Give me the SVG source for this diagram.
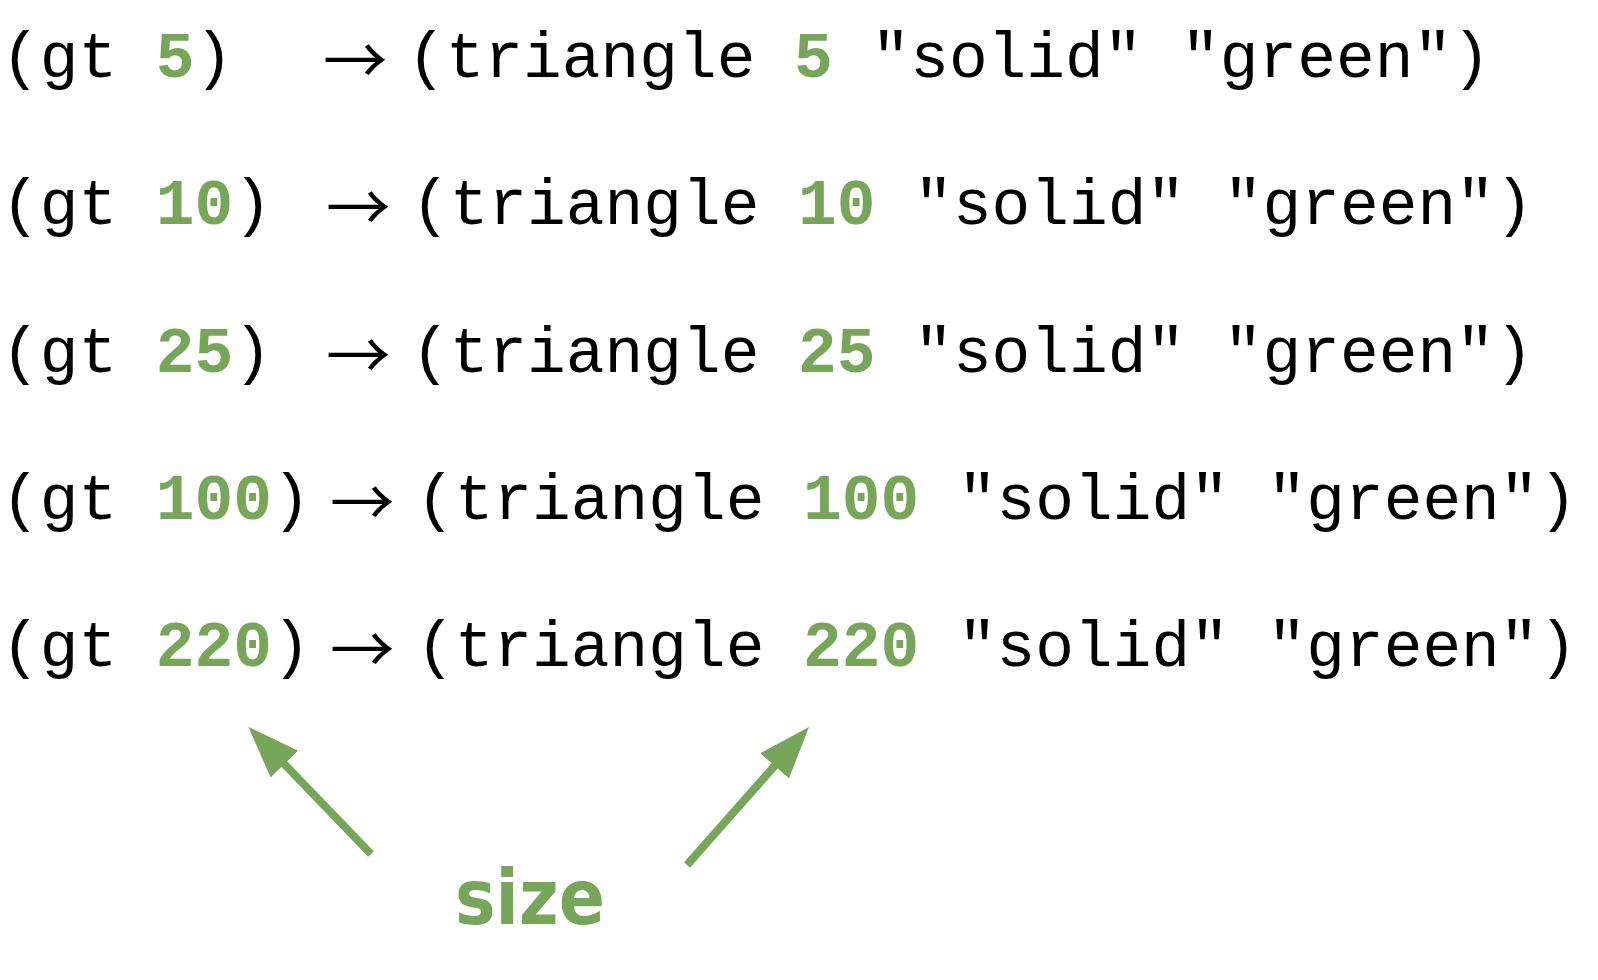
<svg xmlns="http://www.w3.org/2000/svg" width="1598" height="980" viewBox="0 0 1598 980">
<style>
.code{font-family:"Liberation Mono","Courier New",monospace;font-size:64.5px;fill:#000}
.num{font-weight:bold;fill:#77a65b}
.arr{font-family:"Noto Sans CJK JP","DejaVu Sans",sans-serif;font-size:64.5px;fill:#000}
.lbl{font-family:"DejaVu Sans","Liberation Sans",sans-serif;font-weight:bold;font-size:77px;fill:#77a65b}
.conn{stroke:#77a65b;stroke-width:8;fill:none}
</style>
<defs>
<marker id="head" markerUnits="userSpaceOnUse" markerWidth="54" markerHeight="40" refX="2" refY="19.2" orient="auto" viewBox="0 0 54 40">
<path d="M0,0 L52,19.2 L0,38.4 Z" fill="#77a65b"/>
</marker>
</defs>
<rect width="1598" height="980" fill="#fff"/>
<g id="row1">
<text class="code" x="1" y="77">(gt <tspan class="num">5</tspan>)</text>
<text class="arr" x="323" y="84">→</text>
<text class="code" x="407" y="77">(triangle <tspan class="num">5</tspan> "solid" "green")</text>
</g>
<g id="row2">
<text class="code" x="1" y="224">(gt <tspan class="num">10</tspan>)</text>
<text class="arr" x="326" y="231.3">→</text>
<text class="code" x="411" y="224">(triangle <tspan class="num">10</tspan> "solid" "green")</text>
</g>
<g id="row3">
<text class="code" x="1" y="371.5">(gt <tspan class="num">25</tspan>)</text>
<text class="arr" x="326" y="378.6">→</text>
<text class="code" x="411" y="371.5">(triangle <tspan class="num">25</tspan> "solid" "green")</text>
</g>
<g id="row4">
<text class="code" x="1" y="519">(gt <tspan class="num">100</tspan>)</text>
<text class="arr" x="330" y="525.9">→</text>
<text class="code" x="416" y="519">(triangle <tspan class="num">100</tspan> "solid" "green")</text>
</g>
<g id="row5">
<text class="code" x="1" y="666">(gt <tspan class="num">220</tspan>)</text>
<text class="arr" x="330" y="673.2">→</text>
<text class="code" x="416" y="666">(triangle <tspan class="num">220</tspan> "solid" "green")</text>
</g>
<g id="size-label">
<text class="lbl" x="455" y="924" textLength="150" lengthAdjust="spacingAndGlyphs">size</text>
</g>
<g id="connectors">
<line class="conn" x1="371" y1="854" x2="283" y2="762.7" marker-end="url(#head)"/>
<line class="conn" x1="687" y1="865" x2="775.9" y2="764.4" marker-end="url(#head)"/>
</g>
</svg>
